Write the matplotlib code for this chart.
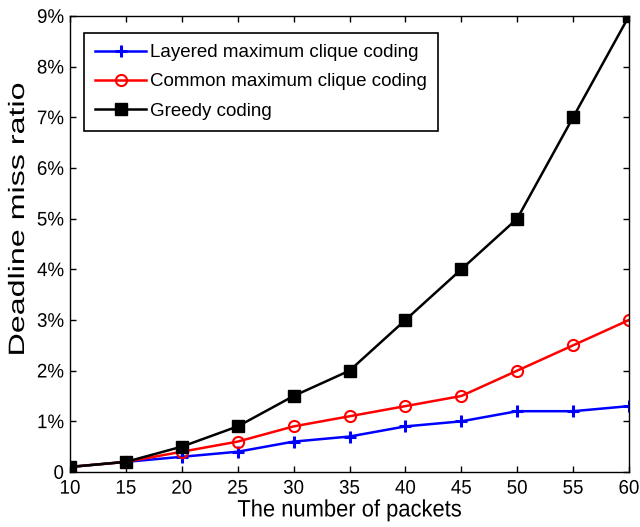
import numpy as np
import matplotlib
matplotlib.use('Agg')
import matplotlib.pyplot as plt
from matplotlib.ticker import FuncFormatter
from matplotlib.patheffects import AbstractPathEffect
from matplotlib.transforms import Affine2D

plt.rcParams['font.family'] = ['Liberation Sans', 'DejaVu Sans']


# La imagen original está estirada en vertical: se estira el texto alrededor de su centro
class Estirar(AbstractPathEffect):
    def __init__(self, sy):
        super().__init__()
        self.sy = sy

    def draw_path(self, renderer, gc, tpath, affine, rgbFace=None):
        bb = tpath.get_extents(affine)
        cy = 0.5 * (bb.y0 + bb.y1)
        a = affine + Affine2D().translate(0, -cy).scale(1, self.sy).translate(0, cy)
        renderer.draw_path(gc, tpath, a, rgbFace)


# Datos (en %)
paquetes = [10, 15, 20, 25, 30, 35, 40, 45, 50, 55, 60]
capas = [0.1, 0.2, 0.3, 0.4, 0.6, 0.7, 0.9, 1.0, 1.2, 1.2, 1.3]
comun = [0.1, 0.2, 0.4, 0.6, 0.9, 1.1, 1.3, 1.5, 2.0, 2.5, 3.0]
voraz = [0.1, 0.2, 0.5, 0.9, 1.5, 2.0, 3.0, 4.0, 5.0, 7.0, 9.0]
etiquetas = ['Layered maximum clique coding', 'Common maximum clique coding', 'Greedy coding']

fig = plt.figure(figsize=(6.4, 5.27), dpi=100)
ax = fig.add_axes([70/640, 55/527, 559/640, 456/527])

ax.plot(paquetes, capas, color='blue', lw=1.8, marker='+', ms=9, mew=2.2, label=etiquetas[0])
ax.plot(paquetes, comun, color='red', lw=1.8, marker='o', ms=8, mew=1.5, mfc='none', label=etiquetas[1])
ax.plot(paquetes, voraz, color='black', lw=1.8, marker='s', ms=9, mfc='black', label=etiquetas[2])

ax.set_xlim(10, 60)
ax.set_ylim(0, 9)
ax.set_xticks(paquetes)
ax.set_yticks(range(0, 10))
ax.yaxis.set_major_formatter(FuncFormatter(lambda v, p: '0' if v == 0 else '%d%%' % v))
ax.tick_params(direction='in', top=True, right=True, labelsize=13.5, length=4.5, width=1)
ax.tick_params(axis='x', pad=6)
ax.tick_params(axis='y', pad=4.3)
for s in ax.spines.values():
    s.set_linewidth(1)
for t in ax.get_xticklabels() + ax.get_yticklabels():
    t.set_path_effects([Estirar(1.05)])

xl = ax.set_xlabel('The number of packets', fontsize=15.8)
xl.set_path_effects([Estirar(1.08)])
ax.xaxis.set_label_coords(0.5, -(500 - 472) / 456)
yl = ax.set_ylabel('Deadline miss ratio', fontsize=16)
yl.set_path_effects([Estirar(1.45)])
ax.yaxis.set_label_coords(-(70 - 29) / 559, (472 - 219) / 456)

leg = ax.legend(loc='upper left', bbox_to_anchor=((84 - 70) / 559, (472 - 33) / 456),
                borderaxespad=0, fontsize=13.5, fancybox=False, edgecolor='black',
                framealpha=1, handlelength=2.7, handletextpad=0.2,
                labelspacing=0.64, borderpad=0.6)
leg.get_frame().set_linewidth(1.2)

fig.savefig('out.png', dpi=100)
